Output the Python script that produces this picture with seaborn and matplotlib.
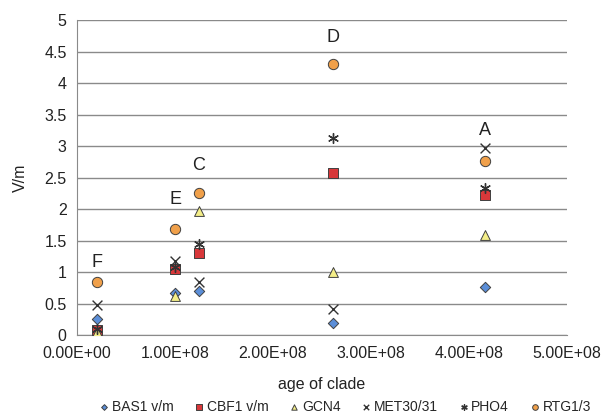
import matplotlib
matplotlib.use("Agg")
import matplotlib.pyplot as plt
import matplotlib.ticker as mticker
import seaborn as sns
import pandas as pd

sns.set_style("white")
plt.rcParams['font.family'] = ['Liberation Sans', 'DejaVu Sans']

# Clade ages (x) and labels
clade_labels = ["F", "E", "C", "D", "A"]
clade_age = [2.0e7, 1.0e8, 1.245e8, 2.61e8, 4.16e8]
label_y = [1.16, 2.15, 2.7, 4.72, 3.25]

series_names = ["BAS1 v/m", "CBF1 v/m", "GCN4", "MET30/31", "PHO4", "RTG1/3"]
bas1 = [0.25, 0.67, 0.70, 0.19, 0.77]
cbf1 = [0.08, 1.05, 1.30, 2.57, 2.22]
gcn4 = [0.05, 0.62, 1.97, 1.00, 1.59]
met30 = [0.48, 1.18, 0.84, 0.41, 2.97]
pho4 = [0.10, 1.08, 1.45, 3.13, 2.33]
rtg13 = [0.85, 1.68, 2.25, 4.31, 2.76]
values = [bas1, cbf1, gcn4, met30, pho4, rtg13]

colors = ["#5b8ed8", "#d8383a", "#f4ee88", "#333333", "#333333", "#f0a04a"]
markers = ["D", "s", "^", "x", (6, 2, 0), "o"]
sizes = [28, 55, 50, 50, 50, 55]

fig = plt.figure(figsize=(6.07, 4.2), dpi=100)
ax = fig.add_axes([0.127, 0.202, 0.807, 0.750])

for name, vals, c, m, s in zip(series_names, values, colors, markers, sizes):
    df = pd.DataFrame({"age": clade_age, "vm": vals})
    if m in ("x",) or isinstance(m, tuple):
        sns.scatterplot(data=df, x="age", y="vm", ax=ax, marker=m, color=c,
                        s=s, linewidth=1.0, label=name, zorder=3)
    else:
        sns.scatterplot(data=df, x="age", y="vm", ax=ax, marker=m, color=c,
                        s=s, edgecolor="#404040", linewidth=0.7, label=name, zorder=3)

for lab, xa, ya in zip(clade_labels, clade_age, label_y):
    ax.text(xa, ya, lab, ha="center", va="center", fontsize=13, color="#222222")

ax.set_xlim(0, 5e8)
ax.set_ylim(0, 5)
ax.set_xticks([0, 1e8, 2e8, 3e8, 4e8, 5e8])
ax.set_yticks([0, 0.5, 1, 1.5, 2, 2.5, 3, 3.5, 4, 4.5, 5])
ax.xaxis.set_major_formatter(mticker.FormatStrFormatter('%.2E'))
ax.yaxis.set_major_formatter(mticker.FuncFormatter(lambda v, p: f"{v:g}"))
ax.yaxis.grid(True, color="#8a8a8a", linewidth=1.0)
ax.set_axisbelow(True)
for sp in ["top", "right"]:
    ax.spines[sp].set_visible(False)
for sp in ["left", "bottom"]:
    ax.spines[sp].set_color("#8a8a8a")
ax.tick_params(axis="both", labelsize=11.5, colors="#222222", length=4, color="#8a8a8a", direction="out")
ax.set_xlabel("age of clade", fontsize=11.5, color="#222222", labelpad=12)
ax.set_ylabel("V/m", fontsize=11.5, color="#222222", labelpad=12)

ax.legend(loc="center", bbox_to_anchor=(0.545, -0.228), ncol=6, frameon=False,
          fontsize=10, markerscale=0.55, handletextpad=0.05, columnspacing=1.35,
          handlelength=1.0, borderpad=0)

fig.savefig("out.png", dpi=100)
